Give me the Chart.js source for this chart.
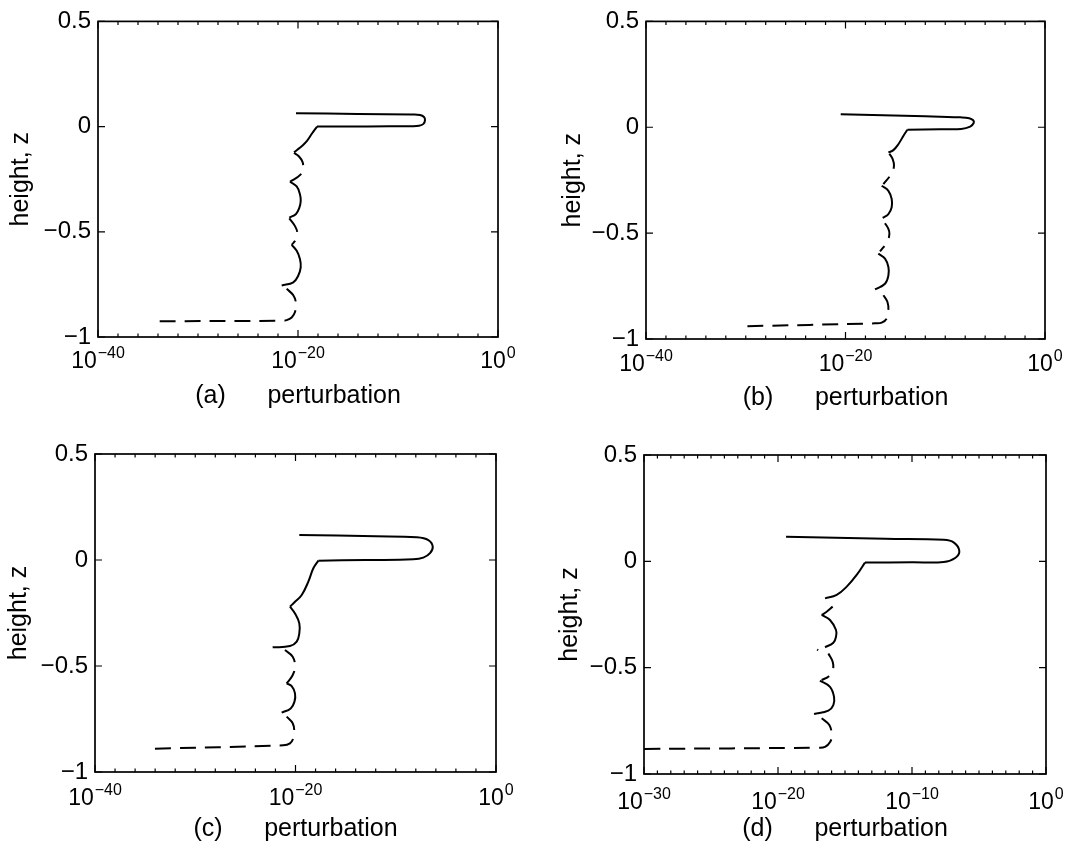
<!DOCTYPE html>
<html><head><meta charset="utf-8">
<script src="https://cdn.jsdelivr.net/npm/chart.js@4.4.1/dist/chart.umd.min.js"></script>
<style>
html,body{margin:0;padding:0;background:#fff;}
#wrap{position:relative;width:1074px;height:848px;overflow:hidden;background:#fff;}
canvas{position:absolute;}
</style></head><body>
<div id="wrap">
<canvas id="ca" width="537" height="420" style="left:0px;top:0px"></canvas>
<canvas id="cb" width="537" height="420" style="left:537px;top:0px"></canvas>
<canvas id="cc" width="537" height="424" style="left:0px;top:424px"></canvas>
<canvas id="cd" width="537" height="424" style="left:537px;top:424px"></canvas>
</div>
<script>
// ---- DATA: each curve piece is a list of [log10(perturbation), height z] ----
// sign: +1 = positive perturbation (solid), -1 = negative (dashed)

// panel (a)
const a1 = [[-20.2,0.064],[-14,0.060],[-8.6,0.057],[-7.8,0.055],[-7.4,0.046],[-7.3,0.031],[-7.45,0.013],[-7.9,0.004],[-8.7,0.002],[-13,0.001],[-18.1,0.0]];
const a2 = [[-18.1,0.0],[-18.6,-0.033],[-19.1,-0.068],[-19.6,-0.092],[-20.1,-0.111],[-20.4,-0.122]];
const a3 = [[-20.4,-0.125],[-19.9,-0.142],[-19.55,-0.168],[-19.5,-0.195],[-19.75,-0.228],[-20.8,-0.262]];
const a4 = [[-20.8,-0.262],[-20.13,-0.284],[-19.8,-0.323],[-19.73,-0.355],[-19.87,-0.386],[-20.2,-0.415],[-20.87,-0.433]];
const a5 = [[-20.87,-0.436],[-20.3,-0.473],[-20.07,-0.504],[-20.2,-0.535],[-20.63,-0.562]];
const a6 = [[-20.63,-0.562],[-20.13,-0.59],[-19.8,-0.63],[-19.73,-0.669],[-19.97,-0.708],[-20.47,-0.74],[-21.63,-0.755]];
const a7 = [[-21.13,-0.771],[-20.47,-0.802],[-20.2,-0.841],[-20.3,-0.881],[-20.63,-0.907],[-21.13,-0.92],[-21.63,-0.923],[-34.3,-0.925]];
const aSigns = [1, 1, -1, 1, -1, 1, -1];

// panel (b)
const b1 = [[-20.48,0.061],[-12,0.052],[-8.5,0.047],[-7.6,0.043],[-7.2,0.033],[-7.15,0.02],[-7.5,0.003],[-8.4,-0.008],[-10.5,-0.009],[-13.8,-0.012]];
const b2 = [[-13.8,-0.012],[-14.2,-0.041],[-14.7,-0.08],[-15.2,-0.108],[-15.7,-0.119]];
const b3 = [[-15.6,-0.125],[-15.27,-0.15],[-15.14,-0.182],[-15.4,-0.22],[-16.2,-0.268]];
const b4 = [[-16.37,-0.276],[-15.7,-0.3],[-15.37,-0.339],[-15.37,-0.378],[-15.7,-0.41],[-16.27,-0.428]];
const b5 = [[-16.04,-0.453],[-15.7,-0.48],[-15.6,-0.503],[-15.8,-0.54],[-16.54,-0.586]];
const b6 = [[-16.71,-0.597],[-16.04,-0.62],[-15.7,-0.66],[-15.7,-0.7],[-16.04,-0.739],[-17.04,-0.766]];
const b7 = [[-16.2,-0.793],[-15.8,-0.824],[-15.7,-0.864],[-15.87,-0.903],[-16.37,-0.923],[-17.04,-0.926],[-30.2,-0.94]];
const bSigns = [1, 1, -1, 1, -1, 1, -1];

// panel (c)
const c1 = [[-19.62,0.118],[-12,0.112],[-7.91,0.107],[-6.75,0.094],[-6.31,0.063],[-6.58,0.032],[-7.25,0.011],[-8.25,0.003],[-13,0.0],[-17.72,-0.003]];
const c2 = [[-17.72,-0.003],[-18.22,-0.039],[-18.72,-0.102],[-19.38,-0.165],[-20.05,-0.197],[-20.55,-0.22]];
const c3 = [[-20.55,-0.22],[-20.05,-0.252],[-19.62,-0.299],[-19.62,-0.346],[-19.88,-0.385],[-20.55,-0.406],[-22.28,-0.412]];
const c4 = [[-21.05,-0.425],[-20.28,-0.456],[-20.05,-0.503],[-20.3,-0.545],[-20.88,-0.582]];
const c5 = [[-20.88,-0.582],[-20.38,-0.595],[-20.05,-0.629],[-20.1,-0.668],[-20.48,-0.7],[-21.38,-0.72]];
const c6 = [[-20.88,-0.739],[-20.28,-0.77],[-20.12,-0.81],[-20.22,-0.841],[-20.55,-0.865],[-21.22,-0.874],[-34.17,-0.89]];
const cSigns = [1, 1, 1, -1, 1, -1];

// panel (d)
const d1 = [[-19.4,0.116],[-12,0.106],[-7.63,0.101],[-6.87,0.088],[-6.47,0.049],[-6.75,0.017],[-7.63,-0.003],[-10,-0.004],[-13.51,-0.006]];
const d2 = [[-13.51,-0.006],[-14.13,-0.064],[-14.87,-0.119],[-15.62,-0.158],[-16.49,-0.174]];
const d3 = [[-15.92,-0.213],[-16.37,-0.237],[-16.74,-0.252]];
const d4 = [[-16.74,-0.252],[-16.12,-0.276],[-15.67,-0.323],[-15.67,-0.354],[-15.87,-0.383],[-16.49,-0.404]];
const d5 = [[-17.08,-0.415],[-17.0,-0.418]];
const d6 = [[-16.24,-0.433],[-15.92,-0.472],[-15.9,-0.51],[-16.2,-0.54],[-16.74,-0.558]];
const d7 = [[-16.87,-0.561],[-16.12,-0.59],[-15.82,-0.637],[-15.87,-0.676],[-16.24,-0.702],[-17.31,-0.718]];
const d8 = [[-16.74,-0.738],[-16.17,-0.77],[-15.99,-0.817],[-16.1,-0.848],[-16.49,-0.872],[-16.99,-0.876],[-30,-0.882]];
const dSigns = [1, 1, -1, 1, -1, -1, 1, -1];

// axis ticks (exponents of 10 on x, heights on y)
const xTicksABC = [-40, -20, 0];
const xTicksD = [-30, -20, -10, 0];
const yTicks = [-1, -0.5, 0, 0.5];
const panelLetters = ['(a)', '(b)', '(c)', '(d)'];
const xTitleWord = 'perturbation';
const yTitle = 'height, z';

// ---- rendering ----
const FAMILY = "'Liberation Sans', Arial, Helvetica, sans-serif";
function yLabel(v) {
  if (Math.abs(v) < 1e-9) return '0';
  return String(v).replace('-', '\u2212');
}

const framePlugin = {
  id: 'frame',
  afterDatasetsDraw(chart, args, opts) {
    const {ctx, chartArea: a, scales: {x, y}} = chart;
    ctx.save();
    ctx.strokeStyle = '#000';
    ctx.lineWidth = 1.7;
    ctx.strokeRect(a.left, a.top, a.right - a.left, a.bottom - a.top);
    ctx.lineWidth = 1.2;
    ctx.beginPath();
    const majors = x.ticks.map(t => Math.round(Math.log10(t.value)));
    for (let e = opts.xMin; e <= 0; e += opts.minorStep) {
      const px = x.getPixelForValue(Math.pow(10, e));
      const len = majors.includes(e) ? 7 : 3.5;
      ctx.moveTo(px, a.bottom); ctx.lineTo(px, a.bottom - len);
      ctx.moveTo(px, a.top); ctx.lineTo(px, a.top + len);
    }
    y.ticks.forEach(t => {
      const py = y.getPixelForValue(t.value);
      ctx.moveTo(a.left, py); ctx.lineTo(a.left + 7, py);
      ctx.moveTo(a.right, py); ctx.lineTo(a.right - 7, py);
    });
    ctx.stroke();
    // power-of-ten tick labels with superscript exponent, placed by the x scale
    ctx.fillStyle = '#000';
    ctx.textBaseline = 'alphabetic';
    ctx.textAlign = 'left';
    const baseY = a.bottom + opts.labelDrop;
    x.ticks.forEach(t => {
      const e = Math.round(Math.log10(t.value));
      const px = x.getPixelForValue(t.value);
      const base = '10';
      const exp = e === 0 ? '0' : '\u2212' + Math.abs(e);
      ctx.font = '23px ' + FAMILY;
      const wb = ctx.measureText(base).width;
      ctx.font = '16px ' + FAMILY;
      const we = ctx.measureText(exp).width;
      const x0 = px - (wb + we + 1) / 2;
      ctx.font = '23px ' + FAMILY;
      ctx.fillText(base, x0, baseY);
      ctx.font = '16px ' + FAMILY;
      ctx.fillText(exp, x0 + wb + 1, baseY - 10);
    });
    ctx.restore();
  }
};

function makeChart(id, pieces, signs, xTickExps, letter, o) {
  const datasets = pieces.map((seg, i) => ({
    data: seg.map(p => ({x: Math.pow(10, p[0]), y: p[1]})),
    showLine: true,
    borderColor: '#000',
    borderWidth: 2,
    borderDash: signs[i] < 0 ? [16, 9] : [],
    pointRadius: 0,
    pointHoverRadius: 0,
    tension: 0.4,
    fill: false
  }));
  const xMinExp = xTickExps[0];
  return new Chart(document.getElementById(id), {
    type: 'scatter',
    data: {datasets},
    options: {
      responsive: false,
      animation: false,
      devicePixelRatio: 1,
      events: [],
      layout: {padding: {top: o.top, right: o.right, left: 0, bottom: 0}},
      plugins: {
        legend: {display: false},
        tooltip: {enabled: false},
        frame: {xMin: xMinExp, minorStep: o.minorStep, labelDrop: o.labelDrop}
      },
      scales: {
        x: {
          type: 'logarithmic',
          position: 'bottom',
          min: Math.pow(10, xMinExp),
          max: 1,
          afterBuildTicks: s => { s.ticks = xTickExps.map(e => ({value: Math.pow(10, e)})); },
          afterFit: s => { s.height = o.xAxisH; },
          grid: {display: false, drawTicks: false},
          border: {display: false},
          ticks: {display: false},
          title: {
            display: true,
            text: letter + '\u00A0\u00A0\u00A0\u00A0\u00A0\u00A0' + xTitleWord,
            font: {family: FAMILY, size: 25},
            color: '#000',
            padding: {top: 0, bottom: o.xTitlePad}
          }
        },
        y: {
          type: 'linear',
          min: -1,
          max: 0.5,
          afterBuildTicks: s => { s.ticks = yTicks.map(v => ({value: v})); },
          afterFit: s => { s.width = o.yAxisW; },
          grid: {display: false, drawTicks: false},
          border: {display: false},
          ticks: {
            callback: v => yLabel(v),
            font: {family: FAMILY, size: 24},
            color: '#000',
            padding: 7
          },
          title: {
            display: true,
            text: yTitle,
            font: {family: FAMILY, size: 25},
            color: '#000',
            padding: {top: o.yTitlePad, bottom: 0}
          }
        }
      }
    },
    plugins: [framePlugin]
  });
}

makeChart('ca', [a1,a2,a3,a4,a5,a6,a7], aSigns, xTicksABC, panelLetters[0],
  {top: 18.5, right: 39, yAxisW: 98, xAxisH: 83, xTitlePad: 9, yTitlePad: 6, labelDrop: 31, minorStep: 2});
makeChart('cb', [b1,b2,b3,b4,b5,b6,b7], bSigns, xTicksABC, panelLetters[1],
  {top: 20, right: 29, yAxisW: 109, xAxisH: 81, xTitlePad: 7, yTitlePad: 21, labelDrop: 32, minorStep: 2});
makeChart('cc', [c1,c2,c3,c4,c5,c6], cSigns, xTicksABC, panelLetters[2],
  {top: 30, right: 41, yAxisW: 95, xAxisH: 76, xTitlePad: 4, yTitlePad: 4, labelDrop: 33, minorStep: 2});
makeChart('cd', [d1,d2,d3,d4,d5,d6,d7,d8], dSigns, xTicksD, panelLetters[3],
  {top: 31, right: 28, yAxisW: 107, xAxisH: 74, xTitlePad: 4, yTitlePad: 18, labelDrop: 35, minorStep: 1});
</script>
</body></html>
